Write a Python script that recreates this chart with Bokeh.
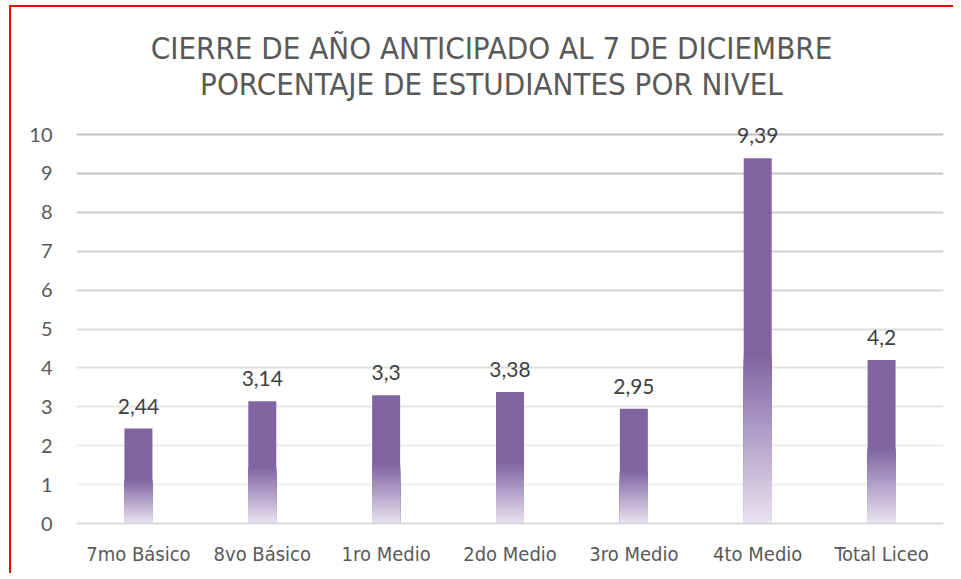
from bokeh.plotting import figure
from bokeh.models import Label
from bokeh.core.properties import value
from bokeh.embed import file_html
from bokeh.resources import INLINE

categories = ["7mo Básico", "8vo Básico", "1ro Medio", "2do Medio", "3ro Medio", "4to Medio", "Total Liceo"]
values = [2.44, 3.14, 3.3, 3.38, 2.95, 9.39, 4.2]
labels = ["2,44", "3,14", "3,3", "3,38", "2,95", "9,39", "4,2"]
yticks = [0, 1, 2, 3, 4, 5, 6, 7, 8, 9, 10]
title_lines = ["CIERRE DE AÑO ANTICIPADO AL 7 DE DICIEMBRE", "PORCENTAJE DE ESTUDIANTES POR NIVEL"]

FW = 867
UNIT = 38.9          # pixels per y unit
FH = 516             # frame covers the title area too
y_top = FH / UNIT
p = figure(x_range=categories, y_range=(0, y_top), frame_width=FW, frame_height=FH,
           min_border_left=65, min_border_right=10, min_border_top=0, min_border_bottom=50,
           output_backend="svg", toolbar_location=None, tools="")
p.styles = {"border-left": "2px solid #ff0000", "border-top": "2px solid #ff0000",
            "margin-left": "9px", "margin-top": "5px"}
p.outline_line_color = None
p.xgrid.grid_line_color = None
p.ygrid.grid_line_color = None

def mix(c1, c2, t):
    return "#%02x%02x%02x" % tuple(int(round(a + (b - a) * t)) for a, b in zip(c1, c2))

# gridlines, darker towards the top as in the reference
grid_y = yticks[1:]
grid_cols = [mix((240, 240, 240), (192, 192, 192), (y - 1) / 9) for y in grid_y]
p.hspan(y=grid_y, line_color=grid_cols, line_width=2)

# bars: solid purple with a fading gradient in the lower part
solid = (128, 100, 162)
light = (233, 227, 241)
frac = 0.46
N = 40
p.vbar(x=categories, bottom=0, top=values, width=0.226,
       fill_color=mix(solid, solid, 0), line_color=None)
xs, ts, cs = [], [], []
for i in range(N - 1, -1, -1):
    for c, v in zip(categories, values):
        xs.append(c)
        ts.append(v * frac * (i + 1) / N)
        cs.append(mix(light, solid, (i + 0.5) / N))
p.vbar(x=xs, bottom=0, top=ts, width=0.226, fill_color=cs, line_color=None)

p.text(x=categories, y=values, text=labels, text_align="center", text_baseline="bottom",
       y_offset=-15, text_font=value("Lato"), text_font_size="21px", text_color="#404040")

narrow = "DejaVu Sans Condensed"
p.xaxis.axis_line_color = "#d9d9d9"
p.xaxis.axis_line_width = 2
p.xaxis.major_tick_line_color = None
p.xaxis.minor_tick_line_color = None
p.xaxis.major_label_standoff = 12
p.xaxis.major_label_text_font = narrow
p.xaxis.major_label_text_font_size = "20px"
p.xaxis.major_label_text_color = "#595959"

p.yaxis.ticker = yticks
p.yaxis.axis_line_color = None
p.yaxis.major_tick_line_color = None
p.yaxis.minor_tick_line_color = None
p.yaxis.major_label_standoff = 18
p.yaxis.major_label_text_font = "Lato"
p.yaxis.major_label_text_font_size = "20px"
p.yaxis.major_label_text_color = "#595959"

# title lines, placed inside the (taller) frame above the value 10
title_x = len(categories) / 2 - 18.5 / (FW / len(categories))
title_dy = [476 / UNIT, 440 / UNIT]
for t, ty in zip(title_lines, title_dy):
    p.add_layout(Label(x=title_x, y=ty, text=t,
                       text_align="center", text_baseline="middle",
                       text_font=narrow, text_font_size="31px",
                       text_color="#595959"))

open("out.html", "w").write(file_html(p, INLINE))
